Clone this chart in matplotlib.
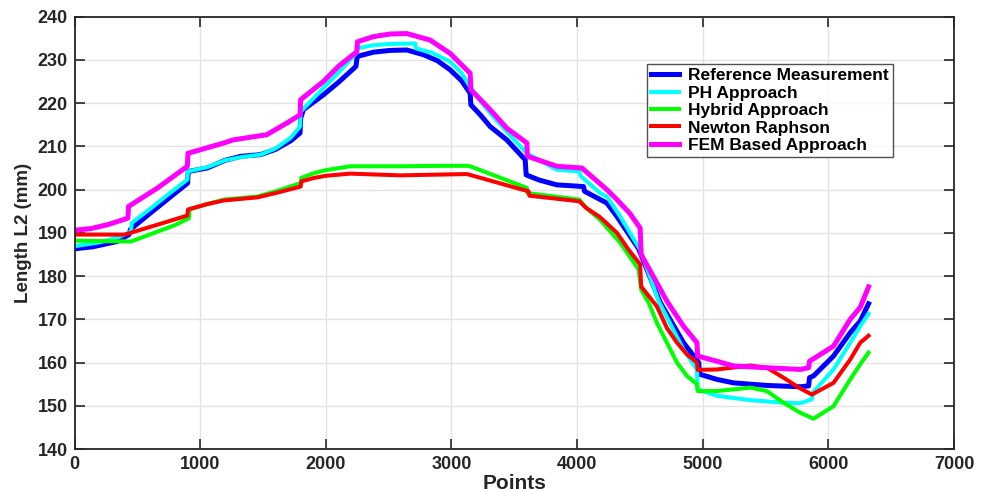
import matplotlib
matplotlib.use("Agg")
import matplotlib.pyplot as plt

plt.rcParams['font.family'] = ['Liberation Sans', 'DejaVu Sans']
plt.rcParams['font.weight'] = 'bold'

# Reference Measurement
ref_x = [0, 150, 340, 434, 445, 600, 750, 900, 905, 1057, 1200, 1323, 1482, 1600, 1721, 1795, 1800,
         1822, 1980, 2100, 2240, 2250, 2380, 2512, 2645, 2778, 2890, 2990, 3080, 3149, 3155, 3230,
         3308, 3441, 3587, 3595, 3700, 3839, 3950, 4051, 4060, 4184, 4237, 4317, 4490, 4660, 4847,
         4968, 4975, 5113, 5245, 5511, 5776, 5843, 5850, 5882, 6041, 6174, 6254, 6320]
ref_y = [186.3, 186.8, 188.0, 189.6, 190.8, 194.5, 198.0, 201.5, 204.2, 205.0, 206.8, 207.7, 208.1,
         209.3, 211.3, 213.1, 216.5, 218.5, 221.9, 224.8, 228.5, 230.8, 231.8, 232.2, 232.3, 231.2,
         229.8, 227.7, 225.2, 222.3, 219.6, 217.3, 214.6, 211.5, 206.9, 203.4, 202.2, 201.1, 200.9,
         200.7, 199.6, 197.7, 196.9, 193.8, 186.3, 174.0, 164.6, 160.0, 157.3, 156.1, 155.3, 154.7,
         154.4, 154.6, 156.5, 156.9, 161.5, 166.9, 169.6, 173.6]

# PH Approach
ph_x = [0, 200, 350, 450, 455, 600, 750, 898, 903, 1057, 1200, 1323, 1482, 1600, 1721, 1795, 1800,
        1980, 2100, 2240, 2250, 2380, 2512, 2711, 2715, 2850, 2990, 3080, 3149, 3230, 3308, 3441,
        3600, 3839, 4018, 4030, 4184, 4237, 4343, 4502, 4650, 4847, 4954, 4960, 5113, 5378, 5643,
        5776, 5869, 5875, 6041, 6174, 6254, 6320]
ph_y = [186.9, 187.8, 189.0, 190.3, 192.3, 195.5, 199.0, 202.3, 204.2, 205.2, 206.8, 207.5, 208.1,
        209.5, 212.0, 214.6, 218.0, 223.5, 227.0, 231.5, 232.7, 233.4, 233.7, 233.8, 232.7, 231.6,
        229.6, 227.0, 223.8, 220.5, 217.7, 213.4, 208.4, 204.6, 204.2, 203.1, 199.2, 198.4, 193.8,
        186.1, 174.2, 163.0, 158.4, 153.8, 152.3, 151.3, 150.7, 150.6, 151.5, 153.0, 158.4, 164.6,
        168.4, 171.3]

# Hybrid Approach
hy_x = [0, 200, 450, 662, 800, 912, 915, 1050, 1190, 1455, 1600, 1800, 1805, 1906, 2000, 2194, 2592,
        2910, 3123, 3149, 3600, 3605, 4018, 4071, 4184, 4343, 4490, 4510, 4575, 4635, 4715, 4795,
        4874, 4954, 4960, 5113, 5378, 5511, 5643, 5776, 5882, 6041, 6174, 6254, 6320]
hy_y = [188.2, 188.1, 188.0, 190.3, 191.8, 193.4, 195.4, 196.6, 197.7, 198.4, 199.6, 201.5, 202.7,
        203.8, 204.5, 205.4, 205.4, 205.5, 205.5, 205.4, 200.4, 199.2, 197.7, 195.8, 193.0, 187.7,
        181.5, 176.9, 173.5, 169.2, 164.6, 160.0, 156.9, 155.0, 153.4, 153.4, 154.2, 153.4, 150.7,
        148.4, 147.0, 149.9, 156.1, 159.6, 162.3]

# Newton Raphson
nr_x = [0, 400, 662, 898, 903, 1050, 1190, 1455, 1600, 1800, 1805, 1906, 2000, 2194, 2592, 3123,
        3149, 3614, 3620, 4018, 4071, 4184, 4317, 4410, 4502, 4510, 4635, 4715, 4795, 4874, 4954,
        4960, 5113, 5378, 5511, 5643, 5776, 5869, 6041, 6174, 6254, 6320]
nr_y = [189.6, 189.6, 191.9, 194.0, 195.4, 196.6, 197.5, 198.2, 199.2, 200.7, 201.9, 202.7, 203.2,
        203.7, 203.3, 203.6, 203.4, 199.6, 198.6, 197.3, 195.8, 193.6, 190.0, 186.1, 182.7, 177.6,
        173.0, 168.0, 164.6, 161.9, 160.0, 158.3, 158.4, 159.3, 158.8, 156.5, 154.0, 152.6, 155.3,
        160.7, 164.6, 166.2]

# FEM Based Approach
fem_x = [0, 133, 265, 425, 430, 662, 898, 903, 1190, 1262, 1530, 1690, 1795, 1800, 1980, 2100, 2247,
         2252, 2380, 2512, 2645, 2830, 2990, 3149, 3155, 3308, 3441, 3600, 3605, 3839, 4038, 4237,
         4317, 4420, 4502, 4510, 4715, 4847, 4954, 4960, 5113, 5245, 5511, 5776, 5843, 5850, 6041,
         6174, 6254, 6320]
fem_y = [190.6, 191.0, 191.9, 193.4, 196.1, 200.4, 205.4, 208.4, 210.8, 211.5, 212.7, 215.4, 217.3,
         220.8, 225.0, 228.5, 231.9, 234.2, 235.4, 236.0, 236.1, 234.6, 231.5, 226.9, 223.1, 218.5,
         214.2, 210.8, 207.7, 205.4, 205.0, 200.0, 197.7, 194.5, 191.1, 185.0, 174.2, 168.4, 164.6,
         161.5, 160.3, 159.2, 158.8, 158.4, 158.8, 160.3, 163.8, 170.0, 172.8, 177.5]

labels = ["Reference Measurement", "PH Approach", "Hybrid Approach", "Newton Raphson",
          "FEM Based Approach"]
colors = ["#0000FF", "#00FFFF", "#00FF00", "#FF0000", "#FF00FF"]
widths = [3.6, 2.9, 2.9, 2.9, 3.6]
series = [(ref_x, ref_y), (ph_x, ph_y), (hy_x, hy_y), (nr_x, nr_y), (fem_x, fem_y)]

x_ticks = [0, 1000, 2000, 3000, 4000, 5000, 6000, 7000]
y_ticks = [140, 150, 160, 170, 180, 190, 200, 210, 220, 230, 240]

fig = plt.figure(figsize=(9.81, 4.92), dpi=100)
ax = fig.add_axes([74.5 / 981, 1 - 449 / 492, (954 - 74.5) / 981, (449 - 16.7) / 492])

for (xs, ys), c, lw, lab in zip(series, colors, widths, labels):
    ax.plot(xs, ys, color=c, lw=lw, label=lab, solid_joinstyle='round')

ax.set_xlim(0, 7000)
ax.set_ylim(140, 240)
ax.set_xticks(x_ticks)
ax.set_yticks(y_ticks)
ax.grid(True, color='#e3e3e3', lw=1.0)
ax.set_axisbelow(True)
for s in ax.spines.values():
    s.set_color('#262626')
    s.set_linewidth(1.3)
ax.tick_params(direction='in', length=7, width=1.2, colors='#262626', top=True, right=True,
               labelsize=13, pad=5)
for t in ax.get_xticklabels() + ax.get_yticklabels():
    t.set_fontweight('bold')
ax.set_xlabel("Points", fontsize=15, fontweight='bold', color='#262626', labelpad=1)
ax.set_ylabel("Length L2 (mm)", fontsize=13.5, fontweight='bold', color='#262626', labelpad=4)

leg = ax.legend(loc='upper left', bbox_to_anchor=(0.651, 0.891), fontsize=12.5, frameon=True,
                fancybox=False, edgecolor='#262626', handlelength=1.6, handletextpad=0.5,
                labelspacing=0.13, borderpad=0.25, borderaxespad=0)
leg.get_frame().set_linewidth(1.0)
for t in leg.get_texts():
    t.set_fontweight('bold')

fig.savefig("out.png", dpi=100)
